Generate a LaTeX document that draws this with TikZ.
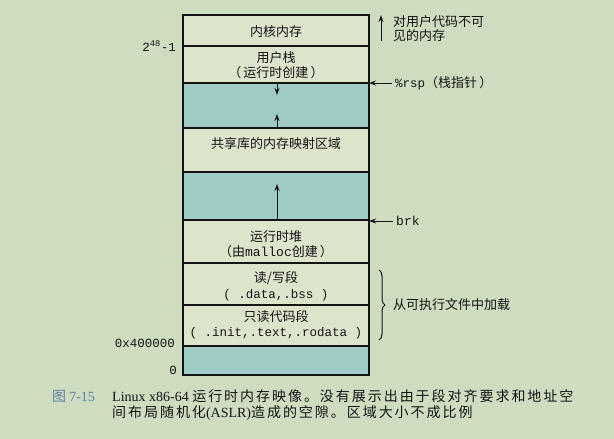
\documentclass[tikz,border=0pt]{standalone}
\usepackage{fontspec}
\setmainfont{Liberation Serif}
\setmonofont{Liberation Mono}
\newfontfamily\cjk{Noto Sans CJK SC}
\newfontfamily\cjkcap[LetterSpace=14]{Noto Sans CJK SC}
\usetikzlibrary{arrows.meta,decorations.pathreplacing}
\definecolor{bgc}{RGB}{206,221,192}
\definecolor{boxc}{RGB}{220,228,204}
\definecolor{gapc}{RGB}{158,204,197}
\definecolor{ink}{RGB}{20,20,20}
\definecolor{capblue}{RGB}{95,130,165}
\tikzset{
  region/.style={draw=ink, line width=1.3pt, fill=boxc, anchor=north west,
    minimum width=186pt, inner sep=0pt, outer sep=0pt},
  gap/.style={region, fill=gapc},
  lbl/.style={inner sep=0pt, align=center, text=ink, font=\cjk\fontsize{13}{15}\selectfont},
  side/.style={inner sep=0pt, anchor=west, text=ink, font=\cjk\fontsize{13}{15}\selectfont},
  addr/.style={inner sep=0pt, anchor=east, text=ink, font=\ttfamily\fontsize{12.5}{14}\selectfont},
  arr/.style={draw=ink, line width=1pt, -{Stealth[length=7pt,width=5pt]}},
  captxt/.style={inner sep=0pt, anchor=west, text=ink, font=\fontsize{14}{16}\selectfont},
}
\begin{document}
\begin{tikzpicture}[x=1pt,y=-1pt]
\fill[bgc] (0,0) rectangle (614,439);
\useasboundingbox (0,0) rectangle (614,439);
% regions
\node[region, minimum height=31pt] (k) at (183,15) {};
\node[region, minimum height=37pt] (us) at (183,46) {};
\node[gap, minimum height=45pt] (g1) at (183,83) {};
\node[region, minimum height=44pt] (sh) at (183,128) {};
\node[gap, minimum height=48pt] (g2) at (183,172) {};
\node[region, minimum height=43pt] (hp) at (183,220) {};
\node[region, minimum height=42pt] (rw) at (183,263) {};
\node[region, minimum height=41pt] (ro) at (183,305) {};
\node[gap, minimum height=29pt] (g3) at (183,346) {};
\draw[ink, line width=2.8pt] (k.south west) -- (k.south east);
% region texts
\node[lbl] (tk) at (276,32) {内核内存};
\node[lbl] (tus1) at (276,58) {用户栈};
\node[lbl] (tus2) at (276,73) {（\,运行时创建\,）};
\node[lbl] (tsh) at (276,144) {共享库的内存映射区域};
\node[lbl] (thp1) at (276,237) {运行时堆};
\node[lbl] (thp2) at (276,252) {（由{\ttfamily malloc}创建\,）};
\node[lbl] (trw1) at (276,278) {读/写段};
\node[lbl, font=\ttfamily\fontsize{12.5}{14}\selectfont] (trw2) at (276,295) {( .data,.bss )};
\node[lbl] (tro1) at (276,317) {只读代码段};
\node[lbl, font=\ttfamily\fontsize{12.5}{14}\selectfont] (tro2) at (276,333) {( .init,.text,.rodata )};
% inner arrows
\coordinate (a1e) at (277,95);
\coordinate (a2e) at (277,114);
\coordinate (a3e) at (277,184);
\draw[arr] (g1.north -| a1e) -- (a1e);
\draw[arr] (g1.south -| a2e) -- (a2e);
\draw[arr] (g2.south -| a3e) -- (a3e);
% left address labels
\node[addr] (l1) at (176,46) {2\textsuperscript{48}-1};
\node[addr] (l2) at (175,343) {0x400000};
\node[addr] (l3) at (177,370) {0};
% right annotations
\coordinate (kb) at (381,41);
\coordinate (kt) at (381,15);
\draw[arr] (kb) -- (kt);
\node[side] (tv1) at (393,22) {对用户代码不可};
\node[side] (tv2) at (393,36) {见的内存};
\node[side] (trsp) at (395,83) {{\ttfamily\fontsize{12.5}{14}\selectfont\%rsp}（栈指针\,）};
\draw[arr] (trsp.west) ++(-3,0) coordinate (rs) -- (rs -| us.east) ;
\node[side, font=\ttfamily\fontsize{13}{15}\selectfont] (tbrk) at (396,221) {brk};
\draw[arr] (tbrk.west) ++(-3,0) coordinate (bs) -- (bs -| hp.east);
\coordinate (bt) at (379,270);
\coordinate (bb) at (379,340);
\draw[ink, line width=1pt, decorate, decoration={brace, amplitude=6pt}] (bt) -- (bb);
\node[side] (tload) at (393,305) {从可执行文件中加载};
% caption
\node[captxt, text=capblue, font=\cjk\fontsize{14}{16}\selectfont] (cnum) at (52,396) {图 {\rmfamily 7-15}};
\node[captxt] (c1) at (112,396) {Linux x86-64 {\cjkcap 运行时内存映像。没有展示出由于段对齐要求和地址空}};
\node[captxt] (c2) at (112,413) {{\cjkcap 间布局随机化}(ASLR){\cjkcap 造成的空隙。区域大小不成比例}};
\end{tikzpicture}
\end{document}
